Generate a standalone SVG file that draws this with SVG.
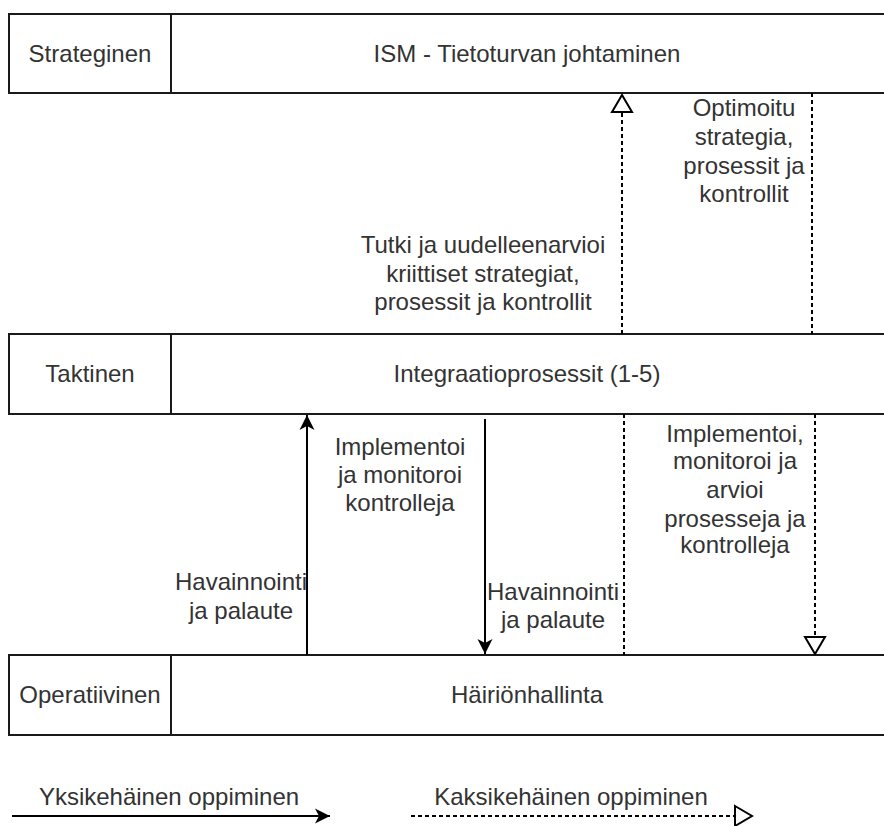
<svg xmlns="http://www.w3.org/2000/svg" width="884" height="826" viewBox="0 0 884 826">
<style>
  .box { fill: #fff; stroke: #1a1a1a; stroke-width: 2; }
  .t { font-family: "Liberation Sans", Arial, sans-serif; font-size: 24px; fill: #333; text-anchor: middle; }
  .solid { stroke: #000; stroke-width: 2; fill: none; }
  .dash { stroke: #000; stroke-width: 2; fill: none; stroke-dasharray: 4 3; }
</style>
<defs>
  <marker id="filled" markerUnits="userSpaceOnUse" markerWidth="16" markerHeight="16" viewBox="0 0 16 16" refX="15" refY="7.5" orient="auto" overflow="visible">
    <path d="M0,0 L15,7.5 L0,15 L4,7.5 Z" fill="#000"/>
  </marker>
  <marker id="open" markerUnits="userSpaceOnUse" markerWidth="20" markerHeight="22" viewBox="0 0 20 22" refX="18" refY="10" orient="auto" overflow="visible">
    <path d="M1,0 L18,10 L1,20 Z" fill="#fff" stroke="#000" stroke-width="2"/>
  </marker>
</defs>

<g id="strategic">
  <rect class="box" x="9" y="14" width="880" height="79"/>
  <line class="box" x1="171" y1="14" x2="171" y2="93"/>
  <text class="t" x="90" y="62">Strateginen</text>
  <text class="t" x="527" y="62">ISM - Tietoturvan johtaminen</text>
</g>

<g id="tactical">
  <rect class="box" x="9" y="334" width="880" height="80"/>
  <line class="box" x1="171" y1="334" x2="171" y2="414"/>
  <text class="t" x="90" y="382">Taktinen</text>
  <text class="t" x="527" y="382">Integraatioprosessit (1-5)</text>
</g>

<g id="operational">
  <rect class="box" x="9" y="655" width="880" height="80"/>
  <line class="box" x1="171" y1="655" x2="171" y2="735"/>
  <text class="t" x="90" y="703">Operatiivinen</text>
  <text class="t" x="527" y="703">Häiriönhallinta</text>
</g>

<g id="connectors">
  <line class="dash" x1="622" y1="334" x2="622" y2="95" marker-end="url(#open)"/>
  <line class="dash" x1="812" y1="93" x2="812" y2="334"/>
  <line class="solid" x1="307" y1="655" x2="307" y2="415" marker-end="url(#filled)"/>
  <line class="solid" x1="485" y1="419" x2="485" y2="654" marker-end="url(#filled)"/>
  <line class="dash" x1="624" y1="414" x2="624" y2="655"/>
  <line class="dash" x1="815" y1="414" x2="815" y2="654" marker-end="url(#open)"/>
</g>

<g id="labels">
  <text class="t" x="744"><tspan x="744" y="116">Optimoitu</tspan><tspan x="744" y="145">strategia,</tspan><tspan x="744" y="173.5">prosessit ja</tspan><tspan x="744" y="202">kontrollit</tspan></text>
  <text class="t" x="483"><tspan x="483" y="253">Tutki ja uudelleenarvioi</tspan><tspan x="483" y="282">kriittiset strategiat,</tspan><tspan x="483" y="310">prosessit ja kontrollit</tspan></text>
  <text class="t" x="400"><tspan x="400" y="455">Implementoi</tspan><tspan x="400" y="483">ja monitoroi</tspan><tspan x="400" y="511">kontrolleja</tspan></text>
  <text class="t" x="241"><tspan x="241" y="590">Havainnointi</tspan><tspan x="241" y="619">ja palaute</tspan></text>
  <text class="t" x="553"><tspan x="553" y="600">Havainnointi</tspan><tspan x="553" y="628">ja palaute</tspan></text>
  <text class="t" x="735"><tspan x="735" y="442">Implementoi,</tspan><tspan x="735" y="469">monitoroi ja</tspan><tspan x="735" y="498">arvioi</tspan><tspan x="735" y="527">prosesseja ja</tspan><tspan x="735" y="553">kontrolleja</tspan></text>
</g>

<g id="legend-single">
  <line class="solid" x1="12" y1="816" x2="330" y2="816" marker-end="url(#filled)"/>
  <text class="t" x="169" y="805">Yksikehäinen oppiminen</text>
</g>
<g id="legend-double">
  <line class="dash" x1="411" y1="816" x2="752" y2="816" marker-end="url(#open)"/>
  <text class="t" x="571" y="805">Kaksikehäinen oppiminen</text>
</g>
</svg>
